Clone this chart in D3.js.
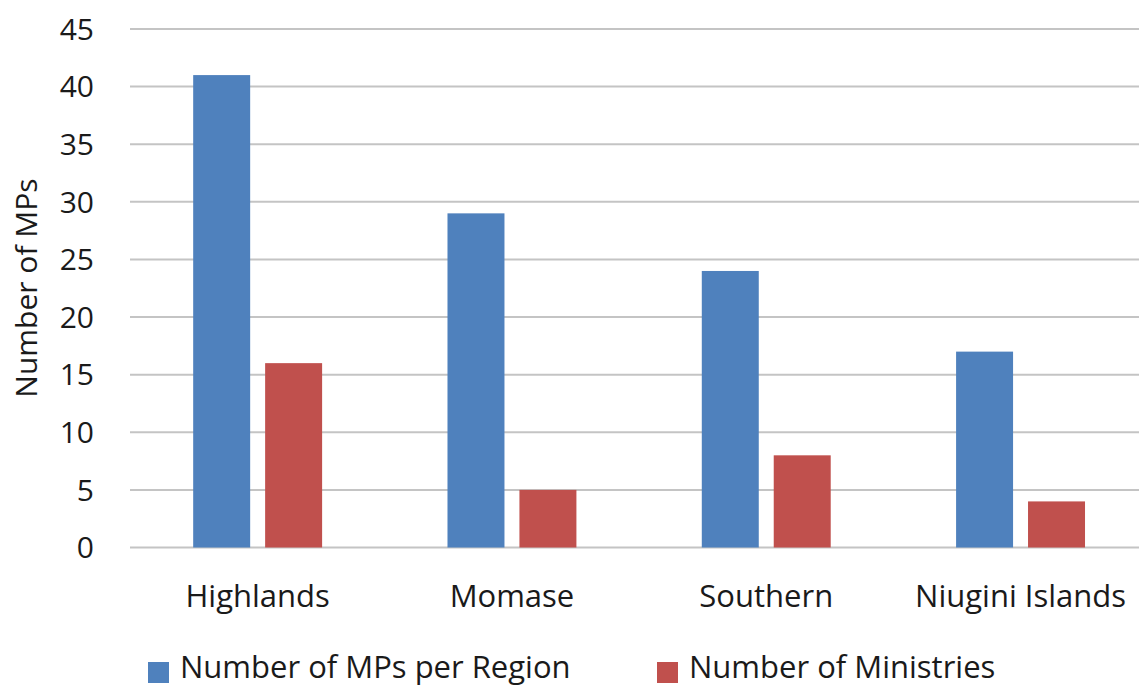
<!DOCTYPE html>
<html>
<head>
<meta charset="utf-8">
<script src="https://cdn.jsdelivr.net/npm/d3@7"></script>
<style>
body { margin:0; background:#fff; }
text { font-family:"Open Sans", sans-serif; fill:#1a1a1a; }
</style>
</head>
<body>
<div id="chart"><svg></svg></div>
<script>
var regions = ["Highlands","Momase","Southern","Niugini Islands"]
var seriesNames = ["Number of MPs per Region","Number of Ministries"]
var mpsPerRegion = [41,29,24,17]
var ministries = [16,5,8,4]
var yTicks = [0,5,10,15,20,25,30,35,40,45]
var colors = ["#4f81bd","#c0504d"]

var screen = {width:1139,height:686}
var svg = d3.select("#chart svg")
    .attr("width",screen.width)
    .attr("height",screen.height)

var rows = regions.map(function(r,i)
{
    return {region:r, values:[mpsPerRegion[i],ministries[i]]}
})

var x0 = d3.scaleBand()
    .domain(regions)
    .range([130.5,1147.7])
    .paddingInner(0.493)
    .paddingOuter(0.2465)

var x1 = d3.scaleBand()
    .domain([0,1])
    .range([0,x0.bandwidth()])
    .paddingInner(0.208)

var yScale = d3.scaleLinear()
    .domain([0,45])
    .range([547.5,29])

// grid lines
svg.append("g")
    .selectAll("line")
    .data(yTicks)
    .enter()
    .append("line")
    .attr("x1",130)
    .attr("x2",screen.width)
    .attr("y1",function(d){ return yScale(d) })
    .attr("y2",function(d){ return yScale(d) })
    .attr("stroke","#c4c4c4")
    .attr("stroke-width",2)

// y tick labels
svg.append("g")
    .selectAll("text")
    .data(yTicks)
    .enter()
    .append("text")
    .attr("x",94)
    .attr("y",function(d){ return yScale(d) })
    .attr("dy","0.36em")
    .attr("text-anchor","end")
    .style("font-size","30px")
    .text(function(d){ return d })

// bars
var groups = svg.append("g")
    .selectAll("g")
    .data(rows)
    .enter()
    .append("g")
    .attr("transform",function(d){ return "translate("+x0(d.region)+",0)" })

groups.selectAll("rect")
    .data(function(d){ return d.values })
    .enter()
    .append("rect")
    .attr("x",function(d,i){ return x1(i) })
    .attr("width",x1.bandwidth())
    .attr("y",function(d){ return yScale(d) })
    .attr("height",function(d){ return yScale(0)-yScale(d) })
    .attr("fill",function(d,i){ return colors[i] })

// category labels
svg.append("g")
    .selectAll("text")
    .data(regions)
    .enter()
    .append("text")
    .attr("x",function(d){ return x0(d)+x0.bandwidth()/2 })
    .attr("y",607)
    .attr("text-anchor","middle")
    .style("font-size","31px")
    .text(function(d){ return d })

// y axis title
svg.append("text")
    .attr("transform","translate(37,288) rotate(-90)")
    .attr("text-anchor","middle")
    .style("font-size","30px")
    .text("Number of MPs")

// legend
var legendX = [148,657]
var legend = svg.append("g")
    .selectAll("g")
    .data(seriesNames)
    .enter()
    .append("g")
    .attr("transform",function(d,i){ return "translate("+legendX[i]+",662)" })

legend.append("rect")
    .attr("width",21)
    .attr("height",21)
    .attr("fill",function(d,i){ return colors[i] })

legend.append("text")
    .attr("x",32)
    .attr("y",16)
    .style("font-size","31px")
    .text(function(d){ return d })
</script>
</body>
</html>
